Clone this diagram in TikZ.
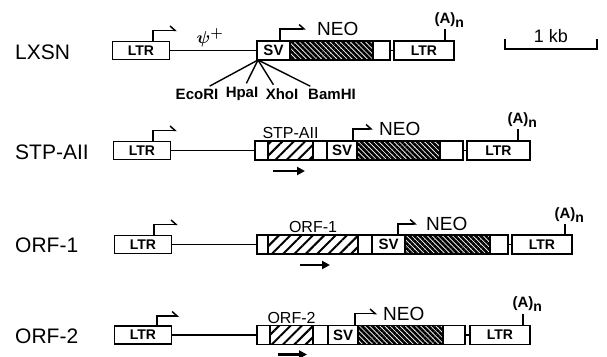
\documentclass[tikz,border=0pt]{standalone}
\usepackage{fontspec}
\setmainfont{Liberation Sans}
\usepackage{bm}
\usepackage{tikz}
\usetikzlibrary{arrows.meta,patterns.meta,positioning}

\begin{document}
\begin{tikzpicture}[x=1pt,y=1pt,
		seg/.style={draw,line width=1.6pt,outer sep=0pt,inner sep=0pt,minimum height=19pt,minimum width=#1},
		wbox/.style={seg=#1,fill=white},
		ltr/.style={seg=#1,font=\fontsize{14}{14}\selectfont\bfseries},
		sv/.style={seg=#1,font=\fontsize{15}{15}\selectfont\bfseries},
		neo/.style={seg=#1,pattern={Lines[angle=-45,distance=3.6pt,line width=2.6pt]}},
		orf/.style={seg=#1,pattern={Lines[angle=45,distance=8pt,line width=2pt]}},
		prom/.style={line width=1.5pt,-{Straight Barb[left,length=5pt,width=9pt]}},
		linker/.style={line width=1.4pt},
		tick/.style={line width=1.4pt},
		fwd/.style={line width=2.8pt,-{Triangle[length=8pt,width=8pt]}},
		rowlbl/.style={anchor=west,inner sep=0pt,font=\fontsize{21}{21}\selectfont},
		lbl/.style={inner sep=1pt,font=\fontsize{19}{19}\selectfont},
		inslbl/.style={inner sep=1pt,font=\fontsize{16}{16}\selectfont},
		site/.style={inner sep=1pt,font=\fontsize{15}{15}\selectfont\bfseries},
		polyA/.style={above,inner sep=1pt,font=\fontsize{15}{15}\selectfont\bfseries}]
		% row heights
		\def\ra{305.5}
		\def\rb{205.5}
		\def\rc{111.5}
		\def\rd{21}
		\def\An{(A)\rlap{\raisebox{-4pt}{\fontsize{14}{14}\selectfont n}}}
		\useasboundingbox (0,0) rectangle (607,356);
		
		% LXSN
		\node[rowlbl] (nameA) at (15,\ra-2) {LXSN};
		\node[ltr=57pt,minimum height=18pt] (ltrLA) at (141,\ra) {LTR};
		\node[sv=33pt,anchor=west] (svA) at (257,\ra) {SV};
		\node[neo=83pt,right=0pt of svA] (neoA) {};
		\node[wbox=17pt,right=0pt of neoA] (wA) {};
		\node[ltr=60pt,right=4pt of wA] (ltrRA) {LTR};
		\draw[linker] (ltrLA) -- (svA) (wA) -- (ltrRA);
		\draw[prom] ([xshift=12pt]ltrLA.north) -- ++(0,11) -- ++(24,0);
		\draw[prom] ([xshift=-10pt]svA.north east) -- ++(0,12) -- ++(26,0) coordinate (pA);
		\node[lbl,right=10pt of pA] (neoTA) {NEO};
		\draw[tick] ([xshift=-9pt]ltrRA.north east) -- ++(0,12) node[polyA] (polyAA) {\An};
		\node[font=\fontsize{19}{19}\selectfont,inner sep=0pt] (psi) at (210,318) {$\bm{\psi}^{\bm{+}}$};
		% cloning sites
		\coordinate (cut) at ([xshift=1pt]svA.south west);
		\node[site] (eco) at (197,262) {EcoRI};
		\node[site] (hpa) at (242,262) {HpaI};
		\node[site] (xho) at (282,262) {XhoI};
		\node[site] (bam) at (332,262) {BamHI};
		\draw[linker,shorten >=3pt] (cut) -- ([xshift=10pt]eco.north);
		\draw[linker,shorten >=3pt] (cut) -- ([xshift=3pt]hpa.north);
		\draw[linker,shorten >=3pt] (cut) -- ([xshift=-7pt]xho.north);
		\draw[linker,shorten >=3pt] (cut) -- ([xshift=-19pt]bam.north);
		% scale bar
		\coordinate (kbL) at (505,307);
		\coordinate (kbR) at (597,307);
		\draw[tick] ([yshift=10pt]kbL) -- (kbL) -- (kbR) -- ([yshift=10pt]kbR);
		\node[inslbl,font=\fontsize{18}{18}\selectfont] (kb) at (551,320) {1 kb};
		
		% STP-AII
		\node[rowlbl] (nameB) at (15,\rb-2) {STP-AII};
		\node[ltr=57pt,minimum height=18pt] (ltrLB) at (142,\rb) {LTR};
		\node[wbox=13pt,anchor=west] (wB1) at (255,\rb) {};
		\node[orf=45pt,right=0pt of wB1] (orfB) {};
		\node[wbox=14pt,right=0pt of orfB] (wB2) {};
		\node[sv=30pt,right=0pt of wB2] (svB) {SV};
		\node[neo=83pt,right=0pt of svB] (neoB) {};
		\node[wbox=23pt,right=0pt of neoB] (wB3) {};
		\node[ltr=63pt,right=4pt of wB3] (ltrRB) {LTR};
		\draw[linker] (ltrLB) -- (wB1) (wB3) -- (ltrRB);
		\draw[prom] ([xshift=11pt]ltrLB.north) -- ++(0,11) -- ++(24,0);
		\draw[prom] ([xshift=-4pt]svB.north east) -- ++(0,12) -- ++(20,0) coordinate (pB);
		\node[lbl,right=5pt of pB] (neoTB) {NEO};
		\node[inslbl,above=1pt of orfB] (insB) {STP-AII};
		\draw[fwd] ([shift={(5pt,-11pt)}]orfB.south west) -- ++(32,0);
		\draw[tick] ([xshift=-12pt]ltrRB.north east) -- ++(0,12) node[polyA] (polyAB) {\An};
		
		% ORF-1
		\node[rowlbl] (nameC) at (15,\rc-1) {ORF-1};
		\node[ltr=57pt,minimum height=18pt] (ltrLC) at (143,\rc) {LTR};
		\node[wbox=11pt,anchor=west] (wC1) at (257,\rc) {};
		\node[orf=90pt,right=0pt of wC1] (orfC) {};
		\node[wbox=14pt,right=0pt of orfC] (wC2) {};
		\node[sv=33pt,right=0pt of wC2] (svC) {SV};
		\node[neo=85pt,right=0pt of svC] (neoC) {};
		\node[wbox=18pt,right=0pt of neoC] (wC3) {};
		\node[ltr=60pt,right=4pt of wC3] (ltrRC) {LTR};
		\draw[linker] (ltrLC) -- (wC1) (wC3) -- (ltrRC);
		\draw[prom] ([xshift=11pt]ltrLC.north) -- ++(0,11) -- ++(24,0);
		\draw[prom] ([xshift=-7pt]svC.north east) -- ++(0,11) -- ++(19,0) coordinate (pC);
		\node[lbl,right=8pt of pC] (neoTC) {NEO};
		\node[inslbl,above=1pt of orfC] (insC) {ORF-1};
		\draw[fwd] ([shift={(32pt,-11pt)}]orfC.south west) -- ++(30,0);
		\draw[tick] ([xshift=-7pt]ltrRC.north east) -- ++(0,11) node[polyA] (polyAC) {\An};
		
		% ORF-2
		\node[rowlbl] (nameD) at (15,\rd-1) {ORF-2};
		\node[ltr=57pt,minimum height=18pt] (ltrLD) at (143,\rd) {LTR};
		\node[wbox=13pt,anchor=west] (wD1) at (257,\rd) {};
		\node[orf=43pt,right=0pt of wD1] (orfD) {};
		\node[wbox=15pt,right=0pt of orfD] (wD2) {};
		\node[sv=30pt,right=0pt of wD2] (svD) {SV};
		\node[neo=85pt,right=0pt of svD] (neoD) {};
		\node[wbox=22pt,right=0pt of neoD] (wD3) {};
		\node[ltr=60pt,right=5pt of wD3] (ltrRD) {LTR};
		\draw[linker] (ltrLD) -- (wD1) (wD3) -- (ltrRD);
		\draw[prom] ([xshift=14pt]ltrLD.north) -- ++(0,10) -- ++(22,0);
		\draw[prom] ([xshift=-3pt]svD.north east) -- ++(0,12) -- ++(22,0) coordinate (pD);
		\node[lbl,right=5pt of pD] (neoTD) {NEO};
		\node[inslbl,above=1pt of orfD] (insD) {ORF-2};
		\draw[fwd] ([shift={(8pt,-10pt)}]orfD.south west) -- ++(29,0);
		\draw[tick] ([xshift=-7pt]ltrRD.north east) -- ++(0,12) node[polyA] (polyAD) {\An};
	\end{tikzpicture}
\end{document}
